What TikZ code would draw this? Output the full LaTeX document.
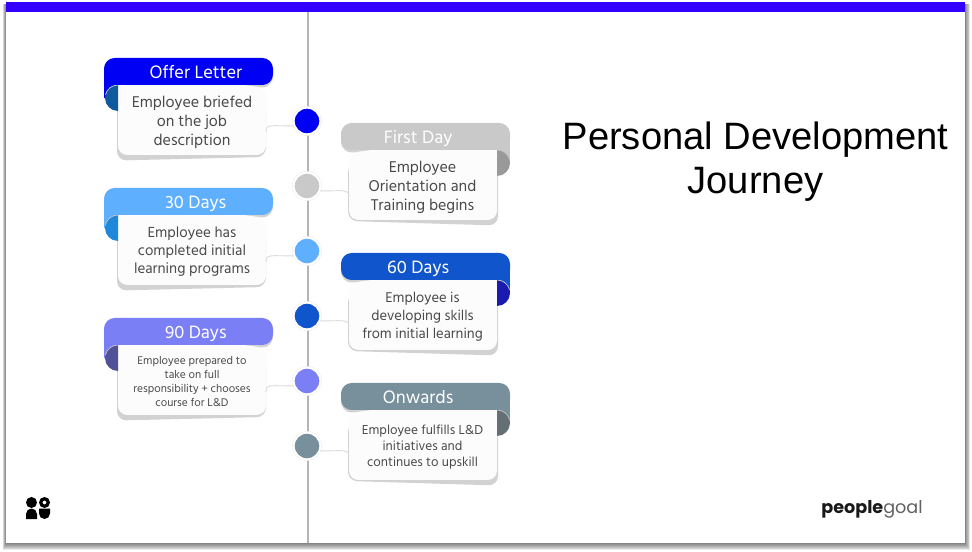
\documentclass[tikz,border=0pt]{standalone}
\usepackage{fontspec}
\setmainfont{Liberation Sans}
\newfontfamily\hindf{Hind Madurai}
\newfontfamily\popf{Poppins}
\definecolor{cBlue}{HTML}{0000F5}\definecolor{fBlue}{HTML}{0F5A9C}
\definecolor{cGrey}{HTML}{C9C9C9}\definecolor{fGrey}{HTML}{999999}
\definecolor{cSky}{HTML}{5EB0FF}\definecolor{fSky}{HTML}{1E88DD}
\definecolor{cRoyal}{HTML}{1155CC}\definecolor{fRoyal}{HTML}{1A1AB0}
\definecolor{cPeri}{HTML}{7B7FF5}\definecolor{fPeri}{HTML}{4F5296}
\definecolor{cSlate}{HTML}{78909C}\definecolor{fSlate}{HTML}{636E75}
\definecolor{bar}{HTML}{3300FF}
\definecolor{txt}{HTML}{4A4A4A}
\definecolor{shd}{HTML}{D2D2D2}
\definecolor{bodyfill}{HTML}{FCFCFC}
\definecolor{axis}{HTML}{B5B5B5}
\tikzset{
  x=0.75pt,y=-0.75pt,
  headbox/.style={rectangle,rounded corners=8pt,minimum width=126.75pt,minimum height=20.25pt,inner sep=0pt,text=white,font=\hindf\fontsize{13.8}{16}\selectfont},
  bodytext/.style={rectangle,minimum width=111pt,minimum height=52.5pt,inner sep=0pt,align=center,text=txt},
  dotnode/.style={circle,minimum size=20pt,inner sep=0pt,draw=white,line width=1.5pt,preaction={draw=black!7,line width=2.2pt}},
  linker/.style={draw=black!14,line width=0.7pt},
}
% name, top, colour, fold, title, size, leading, text
\newcommand{\leftcard}[8]{%
  \begin{scope}[yshift=-#2*0.75pt]
    \fill[shd,rounded corners=8pt] (118,10) rectangle (273,29.5);
    \fill[shd,rounded corners=7pt] (117,40) -- (117,102.5) -- (266,99) -- (266,40) -- cycle;
    \fill[bodyfill,rounded corners=7pt] (118,10) -- (118,97) -- (266,97) -- (266,30) -- cycle;
    \fill[#3] (104,12) rectangle (118,40);
    \fill[#4] (118,27) arc[start angle=-90,end angle=-270,radius=13];
    \draw[black!25,line width=0.6pt] (118,27) arc[start angle=-90,end angle=-165,radius=13];
    \node[headbox,fill=#3] (h#1) at (188.5,13.5) {\hspace*{11pt}\smash{\raisebox{-4.9pt}{#5}}};
    \node[bodytext,font=\hindf\fontsize{#6}{#7}\selectfont] (b#1) at (192,64) {#8};
    \coordinate (t#1) at (266,74);
  \end{scope}}
\newcommand{\rightcard}[8]{%
  \begin{scope}[yshift=-#2*0.75pt]
    \fill[shd,rounded corners=8pt] (341,10) rectangle (500,29.5);
    \fill[shd,rounded corners=7pt] (348,40) -- (348,98) -- (498,102.5) -- (498,40) -- cycle;
    \fill[bodyfill,rounded corners=7pt] (349,30) -- (349,97) -- (497,97) -- (497,10) -- cycle;
    \fill[#3] (497,12) rectangle (510,40);
    \fill[#4] (497,27) arc[start angle=-90,end angle=90,radius=13];
    \draw[black!25,line width=0.6pt] (497,27) arc[start angle=-90,end angle=-15,radius=13];
    \node[headbox,fill=#3] (h#1) at (425.5,13.5) {\smash{\raisebox{-4.9pt}{#5}}\hspace*{11pt}};
    \node[bodytext,font=\hindf\fontsize{#6}{#7}\selectfont] (b#1) at (422.5,64) {#8};
    \coordinate (t#1) at (349,74);
  \end{scope}}
\begin{document}
\begin{tikzpicture}
\useasboundingbox (0,0) rectangle (972,552);
\fill[white] (0,0) rectangle (972,552);
% page shadow
\foreach \i in {7,6,...,1}{
  \fill[black,opacity=0.085] (6-\i*0.45,4) rectangle (965+\i*0.7,543+\i*0.95);
}
\fill[white] (6,3) rectangle (965,543);
\fill[bar] (6,2) rectangle (965,12);
% axis
\coordinate (axt) at (308,12);
\coordinate (axb) at (308,543);
\draw[axis,line width=2pt] (axt) -- (axb);
% cards
\leftcard{A}{58}{cBlue}{fBlue}{Offer Letter}{12}{14.25}{Employee briefed\\on the job\\description}
\rightcard{B}{123}{cGrey}{fGrey}{First Day}{12}{14.25}{Employee\\Orientation and\\Training begins}
\leftcard{C}{188}{cSky}{fSky}{30 Days}{11.25}{13.5}{Employee has\\completed initial\\learning programs}
\rightcard{D}{253}{cRoyal}{fRoyal}{60 Days}{10.9}{13.5}{Employee is\\developing skills\\from initial learning}
\leftcard{E}{318}{cPeri}{fPeri}{90 Days}{8.6}{10.5}{Employee prepared to\\take on full\\responsibility + chooses\\course for L\&D}
\rightcard{F}{383}{cSlate}{fSlate}{Onwards}{10}{12}{Employee fulfills L\&D\\initiatives and\\continues to upskill}
% dots
\node[dotnode,fill=cBlue] (dA) at (307,121) {};
\node[dotnode,fill=cGrey] (dB) at (307,186) {};
\node[dotnode,fill=cSky] (dC) at (307,251) {};
\node[dotnode,fill=cRoyal] (dD) at (307,316) {};
\node[dotnode,fill=cPeri] (dE) at (307,381) {};
\node[dotnode,fill=cSlate] (dF) at (307,446) {};
% connectors
\foreach \n in {A,C,E}{
  \draw[linker] (d\n.200) .. controls +(-24,0) and +(0,-8) .. (t\n);
}
\foreach \n in {B,D,F}{
  \draw[linker] (d\n.-20) .. controls +(24,0) and +(0,-8) .. (t\n);
}
% title
\node[align=center,font=\fontsize{28.6}{33}\selectfont,text=black] (title) at (755.5,161.5) {Personal Development\\Journey};
% logo mark
\fill[black] (31.5,502.5) circle[radius=5.5];
\fill[black,even odd rule] (44.5,502.5) circle[radius=5.5] (44.5,502.5) circle[radius=2];
\fill[black] (26,519) -- (26,514) arc[start angle=180,end angle=360,radius=5.5] -- (37,519) -- cycle;
\fill[black] (39,508.5) -- (50,508.5) -- (50,513.5) arc[start angle=0,end angle=180,radius=5.5] -- cycle;
% wordmark
\node[inner sep=0pt,anchor=center,font=\popf\fontsize{13.2}{16}\selectfont] (brand) at (872,509) {\textcolor{black!90}{\textbf{people}}\textcolor{black!62}{goal}};
\end{tikzpicture}
\end{document}
